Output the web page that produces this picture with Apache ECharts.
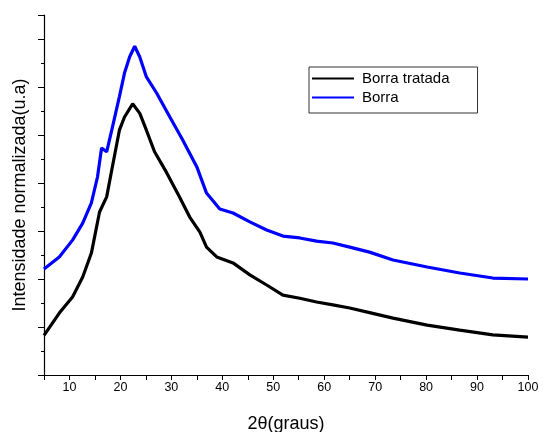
<!DOCTYPE html>
<html>
<head>
<meta charset="utf-8">
<script src="https://cdn.jsdelivr.net/npm/echarts@6/dist/echarts.min.js"></script>
<style>html,body{margin:0;padding:0;background:#fff}#c{width:543px;height:432px}</style>
</head>
<body>
<div id="c"></div>
<script>
var xTratada = [5, 8, 10.6, 12.6, 14.3, 15.9, 17.3, 18.3, 19.8, 20.8, 22.4, 23.8, 25.1, 26.7, 29.1, 31.6, 33.6, 35.6, 36.9, 38.9, 42.1, 45.4, 48.7, 51.9, 55.2, 58.5, 61.7, 65, 68.9, 73.5, 80.2, 86.6, 93.1, 100];
var yTratada = [1.65, 2.58, 3.25, 4.08, 5.08, 6.79, 7.42, 8.54, 10.2, 10.75, 11.3, 10.9, 10.2, 9.3, 8.42, 7.42, 6.58, 5.95, 5.33, 4.92, 4.67, 4.17, 3.75, 3.33, 3.2, 3.04, 2.92, 2.79, 2.6, 2.37, 2.08, 1.87, 1.67, 1.58];
var xBorra = [5, 8, 10.6, 12.6, 14.3, 15.5, 16.3, 17.3, 18.3, 19.8, 20.8, 21.8, 22.8, 23.8, 25.1, 27.1, 29.7, 32.2, 35, 36.9, 39.5, 42.1, 45.4, 48.7, 51.9, 55.2, 58.5, 61.7, 65, 68.9, 73.5, 80.2, 86.6, 93.1, 100];
var yBorra = [4.42, 4.92, 5.62, 6.33, 7.17, 8.25, 9.46, 9.3, 10.2, 11.6, 12.58, 13.25, 13.7, 13.25, 12.42, 11.75, 10.75, 9.8, 8.67, 7.58, 6.92, 6.75, 6.38, 6.04, 5.79, 5.71, 5.58, 5.5, 5.33, 5.12, 4.79, 4.5, 4.25, 4.04, 4.0];
var seriesNames = ['Borra tratada', 'Borra'];
var xName = '2\u03b8(graus)';
var yName = 'Intensidade normalizada(u.a)';

function pairs(xs, ys) { return xs.map(function (x, i) { return [x, ys[i]]; }); }

var font = 'Liberation Sans, Arial, sans-serif';
var chart = echarts.init(document.getElementById('c'), null, {renderer: 'canvas'});
chart.setOption({
  animation: false,
  backgroundColor: '#fff',
  grid: {left: 44, right: 15, top: 15, bottom: 57, containLabel: false, outerBoundsMode: 'none'},
  legend: {
    data: seriesNames,
    orient: 'vertical',
    align: 'left',
    left: 309, top: 67,
    padding: [4, 28, 8, 3],
    itemGap: 4,
    icon: 'rect',
    itemWidth: 42, itemHeight: 2,
    borderColor: '#333', borderWidth: 1,
    textStyle: {fontFamily: font, fontSize: 15, color: '#000', padding: [0, 0, 0, 3], lineHeight: 15}
  },
  xAxis: {
    type: 'value', min: 5, max: 100, interval: 5,
    name: xName, nameLocation: 'middle', nameGap: 40,
    nameTextStyle: {fontFamily: font, fontSize: 18, color: '#000'},
    axisLine: {show: true, lineStyle: {color: '#000', width: 1.2}},
    axisTick: {show: true, length: 5, lineStyle: {color: '#000'}},
    axisLabel: {fontFamily: font, fontSize: 12.5, color: '#000', margin: 6,
      formatter: function (v) { return v % 10 === 0 ? String(v) : ''; }},
    splitLine: {show: false}
  },
  yAxis: {
    type: 'value', min: 0, max: 15, interval: 2,
    name: yName, nameLocation: 'middle', nameGap: 15,
    nameTextStyle: {fontFamily: font, fontSize: 18, color: '#000'},
    axisLine: {show: true, lineStyle: {color: '#000', width: 1.2}},
    axisTick: {show: true, length: 6, lineStyle: {color: '#000'}},
    minorTick: {show: true, splitNumber: 2, length: 3, lineStyle: {color: '#000'}},
    axisLabel: {show: false},
    splitLine: {show: false}
  },
  series: [
    {name: seriesNames[0], type: 'line', symbol: 'none', data: pairs(xTratada, yTratada),
      lineStyle: {color: '#000', width: 3.2}, itemStyle: {color: '#000'}},
    {name: seriesNames[1], type: 'line', symbol: 'none', data: pairs(xBorra, yBorra),
      lineStyle: {color: '#0000ff', width: 3.2}, itemStyle: {color: '#0000ff'}}
  ]
});
</script>
</body>
</html>
